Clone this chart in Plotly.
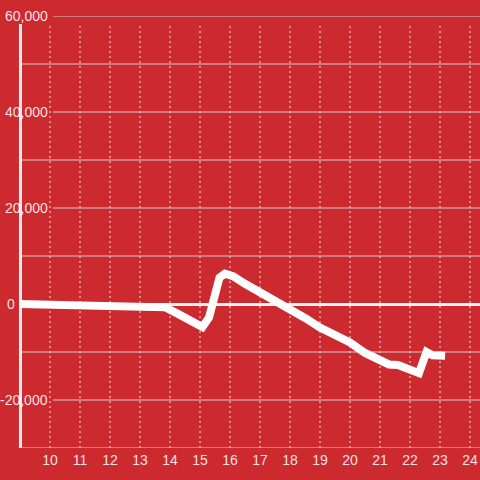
import plotly.graph_objects as go

hours = [9.0, 9.5, 10.0, 10.5, 11.0, 11.5, 12.0, 12.5, 13.0, 13.5, 13.85, 14.25, 14.7, 15.08,
         15.3, 15.5, 15.65, 15.83, 16.1, 16.5, 17.0, 17.5, 18.0, 18.5, 19.0, 19.5, 19.8, 20.0,
         20.5, 21.0, 21.3, 21.6, 22.0, 22.3, 22.55, 22.75, 23.17]
values = [0, -100, -300, -400, -500, -500, -600, -600, -600, -600, -700, -2000, -3600, -4800,
          -2800, 2500, 5500, 6300, 5800, 4200, 2500, 800, -900, -2900, -4900, -6600, -7300, -8000,
          -10200, -12000, -12600, -12700, -13600, -14400, -10000, -10700, -10800]

x_ticks = list(range(10, 25))
y_grid = list(range(-30000, 60001, 10000))
y_labels = [60000, 40000, 20000, 0, -20000]
y_label_text = ["60,000", "40,000", "20,000", "0", "-20,000"]

BG = "#cc2a2f"
FONT = dict(family="Arial, Liberation Sans, sans-serif", size=14, color="rgba(255,255,255,0.88)")

fig = go.Figure()
fig.add_trace(go.Scatter(x=hours, y=values, mode="lines",
                         line=dict(color="white", width=8), hoverinfo="skip"))

shapes = []
W = 460.0
for v in y_grid:
    if v == 0:
        continue
    x0 = (53 - 20) / W if v in y_labels else 0
    shapes.append(dict(type="line", xref="paper", yref="y", x0=x0, x1=1, y0=v, y1=v,
                       line=dict(color="#cfcfcf", width=1), layer="below"))
top = (448 - 24) / 432.0
for h in x_ticks:
    shapes.append(dict(type="line", xref="x", yref="paper", x0=h, x1=h, y0=0, y1=top,
                       line=dict(color="#e4e4e4", width=1, dash="2px,3px"), layer="below"))
shapes.append(dict(type="line", xref="paper", yref="paper", x0=0.001, x1=0.001, y0=0, y1=top,
                   line=dict(color="#eeeeee", width=3), layer="below"))

annotations = []
for v, t in zip(y_labels, y_label_text):
    if t == "0":
        xr = (16.5 - 20) / W
    else:
        xr = (49.5 - 20) / W
    annotations.append(dict(text=t, xref="paper", yref="y", x=xr, y=v, xanchor="right",
                            yanchor="middle", showarrow=False, font=FONT))

fig.update_layout(
    width=480, height=480,
    margin=dict(l=20, r=0, t=16, b=32),
    paper_bgcolor=BG, plot_bgcolor=BG,
    showlegend=False,
    shapes=shapes, annotations=annotations,
    xaxis=dict(range=[9, 9 + 460 / 30.0], tickvals=x_ticks, showgrid=False, zeroline=False,
               showline=False, ticks="", tickfont=FONT, ticklabelstandoff=2, fixedrange=True),
    yaxis=dict(range=[-30000, 60000], showgrid=False, showticklabels=False,
               zeroline=True, zerolinecolor="#f2f2f2", zerolinewidth=3,
               showline=False, ticks="", fixedrange=True),
)

fig.write_html("out.html", config={"displayModeBar": False},
               post_script="document.body.style.margin='0';document.body.style.padding='0';")
